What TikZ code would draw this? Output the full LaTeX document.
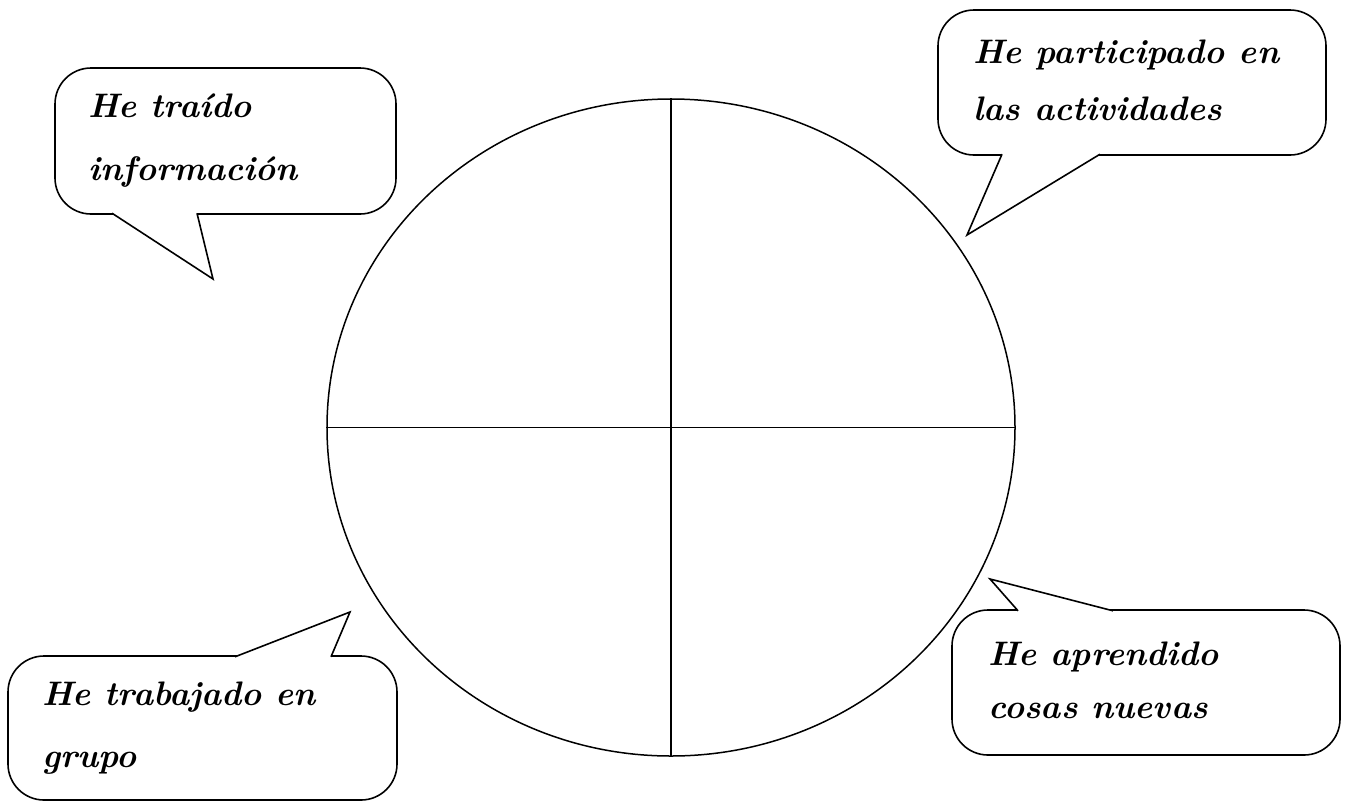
\documentclass[tikz,border=0pt]{standalone}
\usepackage{xcolor}
\usepackage{tikz}
\usetikzlibrary{shapes.geometric}
\tikzset{
  wheel/.style={draw, ellipse, line width=1.5pt, inner sep=0pt,
    minimum width=688pt, minimum height=657pt},
  split/.style={line width=1.5pt},
  bubble/.style={draw, fill=white, rounded corners=36pt, line width=1.6pt, inner sep=0pt},
  tail/.style={line width=1.6pt, line join=miter},
  say/.style={anchor=base west, inner sep=0pt, font=\fontsize{34}{40}\selectfont\bfseries\itshape},
}

\begin{document}
\begin{tikzpicture}[x=1pt, y=-1pt]
  \useasboundingbox (0,0) rectangle (1349,801);

  % the wheel and its four quarters
  \node[wheel] (wheel) at (671,427.5) {};
  \draw[split] (wheel.north) -- (wheel.south);
  \draw[split] (wheel.west) -- (wheel.east);

  % top left
  \node[bubble, minimum width=341pt, minimum height=146pt] (b1) at (225.5,141) {};
  \coordinate (b1l) at (112,213.2);
  \coordinate (b1r) at (197,213.2);
  \coordinate (b1t) at (213,279);
  \fill[white] (b1l) -- (b1t) -- (b1r) -- cycle;
  \draw[tail] (b1l) -- (b1t) -- (b1r);
  \node[say] (t1a) at (88,117) {He traído};
  \node[say] (t1b) at (88,180) {información};

  % top right
  \node[bubble, minimum width=388pt, minimum height=145pt] (b2) at (1132,82.5) {};
  \coordinate (b2l) at (1002,154.2);
  \coordinate (b2r) at (1100,154.2);
  \coordinate (b2t) at (967,235);
  \fill[white] (b2l) -- (b2t) -- (b2r) -- cycle;
  \draw[tail] (b2l) -- (b2t) -- (b2r);
  \node[say] (t2a) at (973,63) {He participado en};
  \node[say] (t2b) at (973,120) {las actividades};

  % bottom left
  \node[bubble, minimum width=389pt, minimum height=144pt] (b3) at (202.5,728) {};
  \coordinate (b3l) at (235,656.8);
  \coordinate (b3r) at (331,656.8);
  \coordinate (b3t) at (350,612);
  \fill[white] (b3l) -- (b3t) -- (b3r) -- cycle;
  \draw[tail] (b3l) -- (b3t) -- (b3r);
  \node[say] (t3a) at (42,705) {He trabajado en};
  \node[say] (t3b) at (42,767) {grupo};

  % bottom right
  \node[bubble, minimum width=388pt, minimum height=145pt] (b4) at (1146,682.5) {};
  \coordinate (b4l) at (1018,610.8);
  \coordinate (b4r) at (1113,610.8);
  \coordinate (b4t) at (990,579);
  \fill[white] (b4l) -- (b4t) -- (b4r) -- cycle;
  \draw[tail] (b4r) -- (b4t) -- (b4l);
  \node[say] (t4a) at (988,665) {He aprendido};
  \node[say] (t4b) at (988,718) {cosas nuevas};
\end{tikzpicture}
\end{document}
